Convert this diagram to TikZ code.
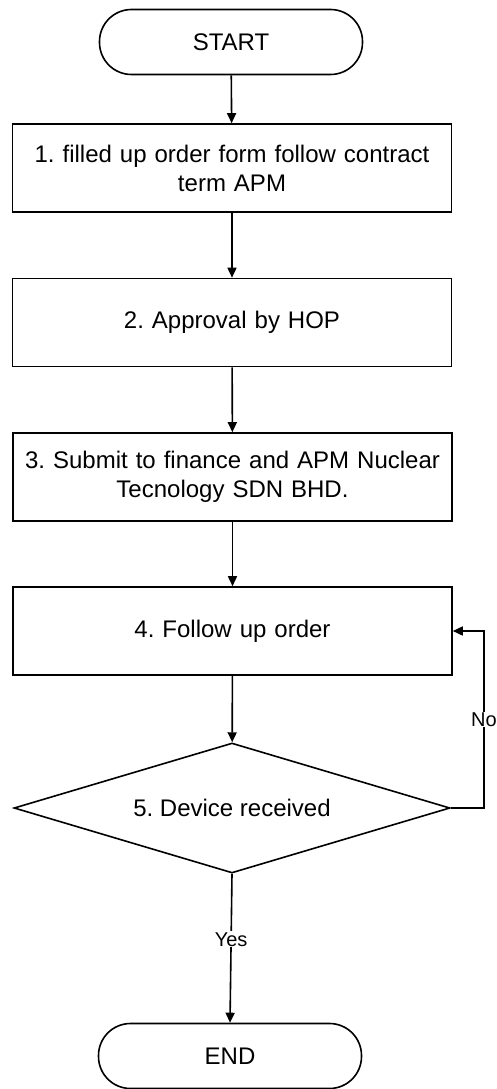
\documentclass[tikz,border=0pt]{standalone}
\usepackage{fontspec}
\setmainfont{Liberation Sans}
\usetikzlibrary{shapes.geometric,arrows.meta}
\begin{document}
\frenchspacing
\begin{tikzpicture}[x=1pt,y=-1pt,
  line width=1.6pt,
  term/.style={draw,rectangle,rounded corners=32pt,minimum width=263pt,minimum height=65pt,font=\fontsize{24}{28}\selectfont,inner sep=0pt},
  procbox/.style={draw,rectangle,minimum width=439pt,minimum height=88pt,text width=430pt,align=center,font=\fontsize{24}{29}\selectfont,inner sep=0pt},
  decision/.style={draw,diamond,aspect=3.35,minimum width=436pt,minimum height=130pt,font=\fontsize{24}{28}\selectfont,inner sep=0pt},
  arr/.style={-{Triangle[length=10pt,width=9pt]}},
  lbl/.style={fill=white,font=\fontsize{20}{23}\selectfont,inner sep=1pt}]
\useasboundingbox (0,0) rectangle (497,1089);
\node[term] (start) at (231,42) {START};
\node[procbox] (b1) at (232,168) {1. filled up order form follow contract\\term APM};
\node[procbox] (b2) at (232,322.5) {2. Approval by HOP};
\node[procbox] (b3) at (232.5,477) {3. Submit to finance and APM Nuclear\\Tecnology SDN BHD.};
\node[procbox] (b4) at (232.5,631) {4. Follow up order};
\node[decision] (d5) at (232,808) {5. Device received};
\node[term] (end) at (230,1056) {END};
\coordinate (nc) at (484,808);
\draw[arr] (start) -- (b1);
\draw[arr] (b1) -- (b2);
\draw[arr] (b2) -- (b3);
\draw[arr] (b3) -- (b4);
\draw[arr] (b4) -- (d5);
\draw[arr] (d5.south) -- node[lbl,pos=0.44] (yes) {Yes} (end.north);
\draw[arr] (d5.east) -- (nc) |- node[lbl,pos=0.25] (no) {No} (b4.east);
\end{tikzpicture}
\end{document}
